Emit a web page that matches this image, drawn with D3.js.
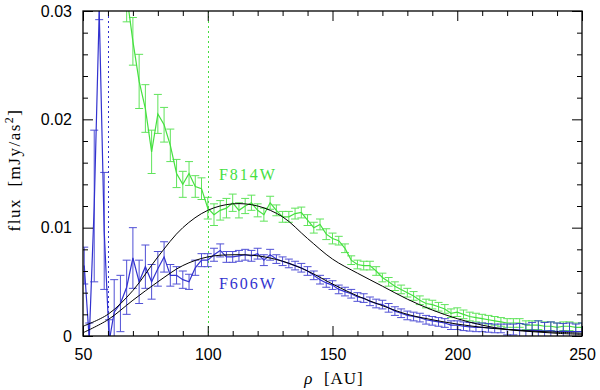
<!DOCTYPE html>
<html>
<head>
<meta charset="utf-8">
<script src="https://cdn.jsdelivr.net/npm/d3@7"></script>
<style>
  body { margin: 0; background: #fff; }
  text { font-family: "Liberation Sans", Arial, sans-serif; }
</style>
</head>
<body>
<svg id="chart" width="600" height="390"></svg>
<script>
// F606W (blue) radial profile
const rho606 = [50.5, 52.5, 54.5, 56.5, 58.5, 60.5, 62.5, 65, 67.5, 70, 72.5, 75, 77.5, 80, 82.5, 85, 87.5, 90, 92.5, 95, 97.5,
  100, 102.5, 105, 107.5, 110, 112.5, 115, 117.5, 120, 122.5, 125, 127.5, 130, 132.5, 135, 137.5, 140, 142.5, 145, 147.5,
  150, 152.5, 155, 157.5, 160, 162.5, 165, 167.5, 170, 172.5, 175, 177.5, 180, 182.5, 185, 187.5, 190, 192.5, 195, 197.5,
  200, 202.5, 205, 207.5, 210, 212.5, 215, 217.5, 220, 222.5, 225, 227.5, 230, 232.5, 235, 237.5, 240, 242.5, 245, 247.5, 250];
const flux606 = [0.0065, -0.0003, 0.0120, 0.0300, 0.0097, -0.0005, 0.0022, 0.0030, 0.0045, 0.0072, 0.0050, 0.0064, 0.0050, 0.0062, 0.0073, 0.0056, 0.0056, 0.0052, 0.0050, 0.0063, 0.0070,
  0.0070, 0.0075, 0.0079, 0.0073, 0.0073, 0.0074, 0.0075, 0.0074, 0.0076, 0.0070, 0.0075, 0.0071, 0.0069, 0.0067, 0.0065, 0.0063, 0.0060, 0.0056, 0.0052, 0.0049,
  0.0047, 0.0043, 0.0041, 0.0039, 0.0036, 0.0035, 0.0032, 0.0030, 0.0029, 0.0026, 0.0023, 0.0021, 0.0019, 0.0018, 0.0017, 0.0015, 0.0014, 0.0013, 0.0012, 0.0010,
  0.0010, 0.0009, 0.00085, 0.0008, 0.0008, 0.00075, 0.0007, 0.0007, 0.0006, 0.0006, 0.00055, 0.0005, 0.00055, 0.0005, 0.00045, 0.0005, 0.0004, 0.00045, 0.0004, 0.0004, 0.0004];
const err606 = [0.0017, 0.0015, 0.0070, 0.0008, 0.0054, 0.0020, 0.0030, 0.0026, 0.0025, 0.0028, 0.0020, 0.0020, 0.0016, 0.0016, 0.0014, 0.0010, 0.0008, 0.0008, 0.0007, 0.0007, 0.0006,
  0.0006, 0.0006, 0.0006, 0.0005, 0.0005, 0.0005, 0.0005, 0.0005, 0.0005, 0.0005, 0.0005, 0.0004, 0.0004, 0.0004, 0.0004, 0.0004, 0.0004, 0.0004, 0.0004, 0.0004,
  0.0004, 0.0004, 0.0004, 0.0004, 0.0004, 0.0004, 0.0004, 0.0004, 0.0004, 0.0004, 0.0004, 0.0004, 0.0004, 0.0004, 0.0004, 0.0004, 0.0004, 0.0004, 0.0004, 0.0004,
  0.0004, 0.0004, 0.0004, 0.0004, 0.0004, 0.0004, 0.0004, 0.0004, 0.0005, 0.0005, 0.0006, 0.0006, 0.0007, 0.0009, 0.0008, 0.0008, 0.0008, 0.0007, 0.0008, 0.0007, 0.0008];

// F814W (green) radial profile
const rho814 = [67.5, 70, 72.5, 75, 77.5, 80, 82.5, 85, 87.5, 90, 92.5, 95, 97.5,
  100, 102.5, 105, 107.5, 110, 112.5, 115, 117.5, 120, 122.5, 125, 127.5, 130, 132.5, 135, 137.5, 140, 142.5, 145, 147.5,
  150, 152.5, 155, 157.5, 160, 162.5, 165, 167.5, 170, 172.5, 175, 177.5, 180, 182.5, 185, 187.5, 190, 192.5, 195, 197.5,
  200, 202.5, 205, 207.5, 210, 212.5, 215, 217.5, 220, 222.5, 225, 227.5, 230, 232.5, 235, 237.5, 240, 242.5, 245, 247.5, 250];
const flux814 = [0.0315, 0.0272, 0.0235, 0.0210, 0.0170, 0.0205, 0.0195, 0.0176, 0.0150, 0.0140, 0.0150, 0.0138, 0.0136,
  0.0118, 0.0112, 0.0116, 0.0118, 0.0123, 0.0116, 0.0120, 0.0123, 0.0116, 0.0112, 0.0123, 0.0116, 0.0110, 0.0110, 0.0113, 0.0114, 0.0107, 0.0100, 0.0103, 0.0094,
  0.0090, 0.0088, 0.0081, 0.0070, 0.0066, 0.0065, 0.0065, 0.0060, 0.0054, 0.0050, 0.0046, 0.0043, 0.0040, 0.0037, 0.0033, 0.0030, 0.0029, 0.0027, 0.0025, 0.0021,
  0.0022, 0.0020, 0.0018, 0.0017, 0.0016, 0.0015, 0.0014, 0.0013, 0.0012, 0.0012, 0.0012, 0.0010, 0.0010, 0.0010, 0.0009, 0.0009, 0.0008, 0.0009, 0.0009, 0.0008, 0.0008];
const err814 = [0.0025, 0.0022, 0.0025, 0.0022, 0.0020, 0.0018, 0.0016, 0.0015, 0.0013, 0.0012, 0.0011, 0.0010, 0.0010,
  0.0010, 0.0010, 0.0009, 0.0009, 0.0008, 0.0007, 0.0007, 0.0007, 0.0006, 0.0006, 0.0006, 0.0005, 0.0005, 0.0005, 0.0005, 0.0005, 0.0005, 0.0005, 0.0005, 0.0005,
  0.0005, 0.0004, 0.0004, 0.0004, 0.0004, 0.0004, 0.0004, 0.0004, 0.0004, 0.0004, 0.0004, 0.0004, 0.0004, 0.0004, 0.0004, 0.0004, 0.0004, 0.0004, 0.0004, 0.0004,
  0.0004, 0.0004, 0.0004, 0.0004, 0.0004, 0.0004, 0.0004, 0.0004, 0.0004, 0.0004, 0.0004, 0.0004, 0.0004, 0.0004, 0.0004, 0.0004, 0.0004, 0.0004, 0.0004, 0.0004, 0.0004];

// model curves (black)
const rhoModel = [50, 60, 70, 80, 90, 100, 110, 120, 130, 140, 150, 160, 170, 180, 190, 200, 210, 220, 230, 240, 250];
const model814 = [0.0009, 0.0020, 0.0042, 0.0073, 0.0100, 0.0116, 0.0122, 0.0120, 0.0110, 0.0090, 0.0071, 0.0058, 0.0046, 0.0034, 0.0024, 0.0016, 0.0010, 0.0006, 0.0004, 0.00025, 0.00015];
const model606 = [0.0003, 0.0015, 0.0033, 0.0050, 0.0065, 0.0073, 0.0075, 0.0074, 0.0069, 0.0060, 0.0048, 0.0037, 0.0028, 0.0020, 0.0015, 0.0011, 0.0008, 0.0006, 0.00045, 0.00035, 0.00025];

// dotted vertical markers
const marker606 = 60;
const marker814 = 100;

// axes ticks
const xTicks = [50, 100, 150, 200, 250];
const xMinor = [60, 70, 80, 90, 110, 120, 130, 140, 160, 170, 180, 190, 210, 220, 230, 240];
const yTicks = [0, 0.01, 0.02, 0.03];
const yTickLabels = ["0", "0.01", "0.02", "0.03"];
const yMinor = [0.002, 0.004, 0.006, 0.008, 0.012, 0.014, 0.016, 0.018, 0.022, 0.024, 0.026, 0.028];

const blue = "#3232cf", green = "#45e03f";

const svg = d3.select("#chart"),
      margin = {top: 11, right: 18, bottom: 54, left: 83},
      width = +svg.attr("width") - margin.left - margin.right,
      height = +svg.attr("height") - margin.top - margin.bottom;

const g = svg.append("g").attr("transform", `translate(${margin.left},${margin.top})`);

const x = d3.scaleLinear().domain([50, 250]).range([0, width]);
const y = d3.scaleLinear().domain([0, 0.03]).range([height, 0]);

svg.append("defs").append("clipPath").attr("id", "plotclip")
  .append("rect").attr("width", width).attr("height", height);

const plot = g.append("g").attr("clip-path", "url(#plotclip)");

// dotted lines
[[marker606, blue], [marker814, green]].forEach(([r, c]) => {
  plot.append("line")
    .attr("x1", Math.round(x(r)) + 0.5).attr("x2", Math.round(x(r)) + 0.5)
    .attr("y1", 0).attr("y2", height)
    .attr("stroke", c).attr("stroke-width", 1)
    .attr("stroke-dasharray", "2,3");
});

function drawSeries(rho, flux, err, color) {
  const pts = rho.map((r, i) => ({r: r, f: flux[i], e: err[i]}));
  const bars = plot.append("g").attr("stroke", color).attr("stroke-width", 1).attr("opacity", 0.85);
  bars.selectAll("line.v").data(pts).enter().append("line")
    .attr("x1", d => x(d.r)).attr("x2", d => x(d.r))
    .attr("y1", d => y(d.f - d.e)).attr("y2", d => y(d.f + d.e));
  bars.selectAll("line.top").data(pts).enter().append("line")
    .attr("x1", d => x(d.r) - 4).attr("x2", d => x(d.r) + 4)
    .attr("y1", d => y(d.f + d.e)).attr("y2", d => y(d.f + d.e));
  bars.selectAll("line.bot").data(pts).enter().append("line")
    .attr("x1", d => x(d.r) - 4).attr("x2", d => x(d.r) + 4)
    .attr("y1", d => y(d.f - d.e)).attr("y2", d => y(d.f - d.e));
  plot.append("path")
    .datum(pts)
    .attr("fill", "none")
    .attr("stroke", color)
    .attr("stroke-width", 1.2)
    .attr("d", d3.line().x(d => x(d.r)).y(d => y(d.f)));
}

drawSeries(rho814, flux814, err814, green);
drawSeries(rho606, flux606, err606, blue);

// model curves
[model814, model606].forEach(m => {
  plot.append("path")
    .datum(rhoModel.map((r, i) => [r, m[i]]))
    .attr("fill", "none")
    .attr("stroke", "#000")
    .attr("stroke-width", 1)
    .attr("d", d3.line().x(d => x(d[0])).y(d => y(d[1])).curve(d3.curveCatmullRom));
});

// band labels
g.append("text")
  .attr("x", x(104.5)).attr("y", y(0.0144))
  .style("font-family", "'Liberation Serif', serif")
  .style("font-size", "16px").style("letter-spacing", "2px")
  .attr("fill", green)
  .text("F814W");
g.append("text")
  .attr("x", x(104.5)).attr("y", y(0.0043))
  .style("font-family", "'Liberation Serif', serif")
  .style("font-size", "16px").style("letter-spacing", "2px")
  .attr("fill", blue)
  .text("F606W");

// axes: major + minor ticks, inward on all four sides
function styleAxis(sel) {
  sel.select(".domain").remove();
  sel.selectAll(".tick line").attr("stroke", "#000");
  sel.selectAll("text").style("font-size", "16px").style("font-family", "'Liberation Sans', Arial, sans-serif").attr("fill", "#000");
}

g.append("g").attr("transform", `translate(0,${height})`)
  .call(d3.axisBottom(x).tickValues(xTicks).tickSize(-10).tickPadding(13).tickFormat(d3.format("d")))
  .call(styleAxis);
g.append("g").attr("transform", `translate(0,${height})`)
  .call(d3.axisBottom(x).tickValues(xMinor).tickSize(-5).tickFormat(""))
  .call(styleAxis);
g.append("g")
  .call(d3.axisTop(x).tickValues(xTicks).tickSize(-10).tickFormat(""))
  .call(styleAxis);
g.append("g")
  .call(d3.axisTop(x).tickValues(xMinor).tickSize(-5).tickFormat(""))
  .call(styleAxis);

g.append("g")
  .call(d3.axisLeft(y).tickValues(yTicks).tickSize(-10).tickPadding(11).tickFormat((d, i) => yTickLabels[i]))
  .call(styleAxis);
g.append("g")
  .call(d3.axisLeft(y).tickValues(yMinor).tickSize(-5).tickFormat(""))
  .call(styleAxis);
g.append("g").attr("transform", `translate(${width},0)`)
  .call(d3.axisRight(y).tickValues(yTicks).tickSize(-10).tickFormat(""))
  .call(styleAxis);
g.append("g").attr("transform", `translate(${width},0)`)
  .call(d3.axisRight(y).tickValues(yMinor).tickSize(-5).tickFormat(""))
  .call(styleAxis);

// frame
g.append("rect")
  .attr("width", width).attr("height", height)
  .attr("fill", "none").attr("stroke", "#000").attr("stroke-width", 1.3);

// axis titles
svg.append("text")
  .attr("x", 334)
  .attr("y", 384)
  .attr("text-anchor", "middle")
  .style("font-family", "'Liberation Serif', serif")
  .style("font-size", "17px")
  .style("letter-spacing", "1px")
  .html("<tspan font-style='italic'>ρ</tspan>&#160;&#160;[AU]");

svg.append("text")
  .attr("transform", "translate(20,170) rotate(-90)")
  .attr("text-anchor", "middle")
  .style("font-family", "'Liberation Serif', serif")
  .style("font-size", "17px")
  .style("letter-spacing", "1.5px")
  .html("flux&#160;&#160;[mJy/as<tspan baseline-shift='super' font-size='12px'>2</tspan>]");
</script>
</body>
</html>
